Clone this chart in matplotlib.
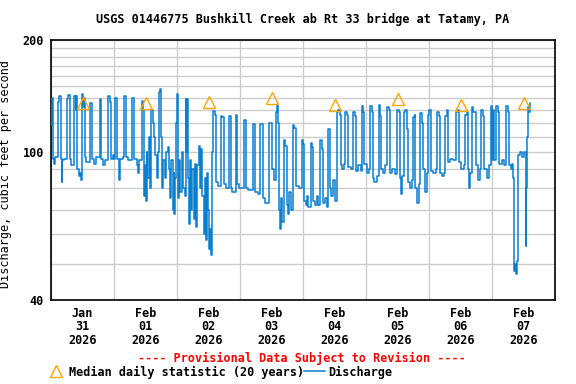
import matplotlib
matplotlib.use("Agg")
import matplotlib.pyplot as plt
from matplotlib.lines import Line2D
from matplotlib.ticker import NullFormatter
import numpy as np

plt.rcParams["font.family"] = ["DejaVu Sans Mono"]
plt.rcParams["font.weight"] = "bold"
plt.rcParams["font.size"] = 8.5

# 15-min gage readings as (hour of day, cfs) breakpoints
jan31 = [(0.0, 118), (0.2, 140), (0.7, 96), (1.2, 93), (1.6, 97), (2.6, 136), (3.2, 141),
         (3.9, 96), (4.1, 83), (4.3, 95), (5.0, 96), (6.0, 139), (6.6, 142), (7.3, 96),
         (7.8, 92), (8.6, 141), (9.4, 130), (9.6, 141), (10.0, 90), (10.5, 86), (11.0, 88),
         (11.4, 84), (11.9, 143), (12.2, 132), (12.6, 140), (12.8, 97), (13.5, 94),
         (14.7, 135), (15.7, 96), (16.5, 93), (17.3, 97), (18.5, 139), (19.1, 96),
         (19.8, 92), (20.5, 95), (21.7, 141), (22.4, 136), (23.0, 96), (23.8, 98)]
feb01 = [(0.0, 96), (0.4, 128), (0.5, 140), (1.3, 96), (1.9, 84), (2.1, 96), (3.5, 97),
         (3.9, 141), (4.7, 97), (5.5, 95), (7.0, 140), (7.7, 96), (8.6, 92), (9.2, 88),
         (9.6, 95), (10.6, 137), (11.2, 130), (11.5, 76), (11.8, 92), (12.1, 74),
         (12.4, 100), (12.7, 85), (13.2, 110), (13.7, 80), (14.1, 130), (14.7, 120),
         (15.1, 110), (15.7, 98), (16.2, 85), (16.8, 100), (17.2, 145), (17.6, 148),
         (18.0, 110), (18.3, 80), (18.8, 95), (19.3, 85), (19.7, 100), (20.4, 103),
         (21.0, 90), (21.4, 75), (21.8, 95), (22.3, 70), (22.7, 88), (23.0, 68),
         (23.3, 85), (23.7, 120)]
feb02 = [(0.0, 143), (0.3, 100), (0.5, 75), (0.9, 95), (1.3, 78), (1.9, 100), (2.3, 80),
         (2.9, 76), (3.3, 139), (3.6, 100), (3.9, 139), (4.3, 85), (4.7, 64), (5.1, 95),
         (5.5, 70), (5.9, 90), (6.4, 66), (6.8, 93), (7.2, 63), (7.6, 92), (8.3, 104),
         (8.7, 80), (9.2, 102), (9.6, 76), (10.2, 60), (10.6, 85), (11.0, 58), (11.5, 88),
         (11.9, 70), (12.3, 55), (12.7, 62), (13.0, 53), (13.3, 100), (13.7, 129),
         (14.3, 126), (14.9, 83), (15.5, 81), (16.6, 125), (17.2, 124), (17.8, 82),
         (18.7, 80), (19.7, 125), (20.4, 80), (21.0, 78), (22.3, 126), (23.0, 82),
         (23.6, 80)]
feb03 = [(0.0, 80), (1.4, 122), (2.2, 80), (3.0, 79), (4.8, 119), (5.8, 78), (6.8, 77),
         (7.7, 119), (8.6, 75), (9.6, 73), (11.1, 120), (12.1, 90), (12.8, 84),
         (13.6, 128), (14.0, 134), (14.4, 120), (15.0, 70), (15.3, 62), (15.6, 75),
         (16.0, 65), (16.6, 108), (17.2, 104), (17.8, 72), (18.4, 68), (18.8, 78),
         (19.4, 70), (20.0, 118), (20.6, 116), (21.4, 81), (22.5, 80), (23.5, 108)]
feb04 = [(0.0, 105), (0.3, 80), (0.5, 74), (1.0, 72), (1.5, 76), (2.0, 71), (2.9, 106),
         (3.6, 103), (3.9, 74), (4.5, 72), (5.3, 76), (5.8, 72), (6.4, 108), (7.2, 102),
         (7.5, 73), (8.3, 75), (9.0, 71), (9.6, 80), (9.7, 115), (10.2, 80), (10.8, 76),
         (11.5, 84), (12.0, 74), (12.8, 83), (13.0, 128), (13.5, 130), (14.0, 126),
         (14.4, 92), (15.0, 90), (15.6, 93), (16.1, 128), (16.6, 126), (17.3, 91),
         (18.3, 90), (19.1, 128), (19.8, 125), (20.3, 89), (21.0, 92), (22.0, 89),
         (22.3, 133), (22.8, 128), (23.3, 93)]
feb05 = [(0.0, 93), (0.4, 88), (1.0, 90), (1.4, 133), (2.1, 128), (2.6, 85), (3.2, 83),
         (4.0, 86), (4.8, 134), (5.4, 125), (5.8, 90), (6.5, 88), (7.3, 92), (8.1, 132),
         (8.7, 130), (9.0, 88), (10.0, 90), (11.0, 87), (11.7, 130), (12.4, 128),
         (12.8, 85), (13.4, 77), (13.8, 86), (14.4, 128), (14.9, 130), (15.6, 115),
         (15.9, 83), (16.8, 80), (17.6, 84), (17.8, 124), (18.5, 126), (18.8, 80),
         (19.5, 73), (20.0, 82), (20.5, 127), (21.3, 120), (21.7, 90), (22.5, 78),
         (23.2, 88), (23.6, 126)]
feb06 = [(0.0, 130), (0.7, 125), (0.9, 89), (1.5, 88), (2.5, 90), (2.9, 128), (3.8, 125),
         (4.1, 88), (5.0, 86), (5.8, 88), (6.2, 125), (7.0, 130), (7.3, 94), (8.0, 96),
         (9.0, 95), (10.2, 128), (11.0, 130), (11.5, 94), (12.2, 90), (13.4, 92),
         (13.7, 126), (14.5, 128), (14.8, 90), (15.2, 80), (15.8, 88), (16.2, 132),
         (16.8, 128), (17.8, 118), (18.0, 92), (18.8, 84), (19.5, 90), (19.8, 130),
         (20.7, 125), (21.0, 90), (22.0, 85), (23.0, 92), (23.5, 133)]
feb07 = [(0.0, 95), (0.4, 130), (0.8, 95), (1.6, 133), (2.3, 128), (2.8, 93), (3.8, 95),
         (4.5, 92), (5.4, 133), (6.1, 128), (6.4, 92), (7.2, 90), (7.8, 93), (8.1, 85),
         (8.3, 48), (8.8, 50), (9.2, 47), (9.5, 51), (9.9, 98), (10.5, 100), (11.5, 97),
         (12.3, 100), (12.8, 56), (13.0, 80), (13.3, 110), (13.6, 132), (14.0, 128),
         (14.3, 135)]

days = [jan31, feb01, feb02, feb03, feb04, feb05, feb06, feb07]
start = np.datetime64("2026-01-31T00:00")

median_values = [135, 135, 136, 140, 134, 139, 134, 135]
date_labels = ["Jan\n31\n2026", "Feb\n01\n2026", "Feb\n02\n2026", "Feb\n03\n2026",
               "Feb\n04\n2026", "Feb\n05\n2026", "Feb\n06\n2026", "Feb\n07\n2026"]

t = []
q = []
for i, day in enumerate(days):
    for h, v in day:
        t.append(start + np.timedelta64(int(round((i * 24 + h) * 60)), "m"))
        q.append(v)
t = np.array(t)

noons = start + np.arange(len(median_values)) * np.timedelta64(24, "h") + np.timedelta64(12, "h")
midnights = start + np.arange(9) * np.timedelta64(24, "h")

fig = plt.figure(figsize=(5.76, 3.84), dpi=100)
ax = fig.add_axes([51 / 576, 1 - 300 / 384, 504 / 576, 260 / 384])

ax.step(t, q, where="post", color="#0a7fce", lw=1.1, zorder=3)
ax.plot(noons, median_values, ls="none", marker="^", ms=8, mfc="none",
        mec="#ffa500", mew=1.0, zorder=4)

ax.set_yscale("log")
ax.set_ylim(40, 200)
ax.set_yticks([40, 100, 200])
ax.set_yticklabels(["40", "100", "200"])
ax.set_yticks(range(50, 200, 10), minor=True)
ax.yaxis.set_minor_formatter(NullFormatter())

ax.set_xlim(midnights[0], midnights[-1])
ax.set_xticks(noons)
ax.set_xticklabels(date_labels, linespacing=1.05)
ax.set_xticks(midnights, minor=True)

ax.grid(which="minor", color="#cccccc", lw=1.0)
ax.grid(which="major", axis="y", color="#cccccc", lw=1.0)
ax.tick_params(which="both", length=0)
ax.tick_params(axis="x", pad=5)
ax.tick_params(axis="y", pad=5)
for s in ax.spines.values():
    s.set_linewidth(1.2)

ax.set_ylabel("Discharge, cubic feet per second")
ax.yaxis.set_label_coords(-0.077, 0.483)
fig.text(0.525, 1 - 19 / 384, "USGS 01446775 Bushkill Creek ab Rt 33 bridge at Tatamy, PA",
         ha="center", va="center")
fig.text(301.5 / 576, 1 - 358 / 384, "---- Provisional Data Subject to Revision ----",
         ha="center", va="center", color="red")

handles = [Line2D([], [], ls="none", marker="^", ms=8, mfc="none", mec="#ffa500", mew=1.0),
           Line2D([], [], color="#0a7fce", lw=1.1)]
fig.legend(handles, ["Median daily statistic (20 years)", "Discharge"], ncol=2,
           loc="center left", bbox_to_anchor=(39 / 576, 1 - 372 / 384), frameon=False,
           handlelength=1.8, handletextpad=0.25, columnspacing=0.0, borderpad=0,
           prop={"weight": "bold", "size": 8.5})

fig.savefig("out.png", dpi=100)
